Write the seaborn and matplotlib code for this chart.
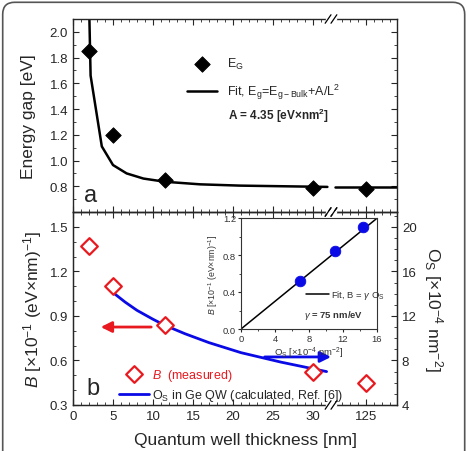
import numpy as np
import pandas as pd
import matplotlib
matplotlib.use('Agg')
import matplotlib.pyplot as plt
from matplotlib.ticker import AutoMinorLocator, FixedLocator
from matplotlib.patches import PathPatch
from matplotlib.path import Path
import seaborn as sns

# ---- data ----
# panel a: energy gap vs quantum well thickness
L_eg = [2, 5, 11.5, 30, 125]
E_gap = [1.85, 1.20, 0.85, 0.79, 0.775]
fit_L1 = [2.0, 2.2, 3.6, 5.0, 6.7, 8.8, 11.5, 15.9, 20.9, 31.8]
fit_E1 = [2.25, 1.66, 1.11, 0.965, 0.90, 0.86, 0.835, 0.815, 0.805, 0.795]
fit_L2 = [121.075, 128.875]
fit_E2 = [0.795, 0.795]

# panel b: B measured (left axis) and calculated O_S (right axis)
L_B = [2, 5, 11.5, 30, 125]
B_meas = [1.37, 1.10, 0.84, 0.52, 0.45]
L_os = [5, 6.5, 8, 10, 11.5, 14, 17, 21, 26, 31.7]
Os_calc = [14.1, 13.25, 12.5, 11.7, 11.15, 10.4, 9.6, 8.7, 7.85, 7.0]

# inset: B vs O_S with linear fit
inset_Os = [6.95, 11.1, 14.3]
inset_B = [0.52, 0.84, 1.10]
inset_fit_Os = [0, 15.9]
inset_fit_B = [0, 1.19]

x_ticks = [0, 5, 10, 15, 20, 25, 30, 125]

# ---- broken x axis via a piecewise-linear scale ----
A1, B2, G = 31.8, 121.075, 0.9
OFF = B2 - (A1 + G)


def fwd(x):
    x = np.asarray(x, float)
    return np.where(x <= A1, x,
                    np.where(x >= B2, x - OFF, A1 + (x - A1) * G / (B2 - A1)))


def inv(y):
    y = np.asarray(y, float)
    return np.where(y <= A1, y,
                    np.where(y >= A1 + G, y + OFF, A1 + (y - A1) * (B2 - A1) / G))


sns.set_style('ticks')
plt.rcParams['font.family'] = ['Liberation Sans', 'DejaVu Sans']
plt.rcParams['mathtext.fontset'] = 'custom'
plt.rcParams['mathtext.rm'] = 'Liberation Sans'
plt.rcParams['mathtext.it'] = 'Liberation Sans:italic'
plt.rcParams['mathtext.bf'] = 'Liberation Sans:bold'

RED = '#e8191f'
BLUE = '#0a0ae6'

W, H = 467, 452
fig = plt.figure(figsize=(W / 100, H / 100), dpi=100)


def rect(l, t, r, b):
    return [l / W, 1 - b / H, (r - l) / W, (b - t) / H]


ax_a = fig.add_axes(rect(73, 20, 397, 213))
ax_b = fig.add_axes(rect(73, 213, 397, 406))
ax_b2 = ax_b.twinx()

for ax in (ax_a, ax_b):
    ax.set_xscale('function', functions=(fwd, inv))
    ax.set_xlim(0, 128.875)
    ax.xaxis.set_major_locator(FixedLocator(x_ticks))
    ax.xaxis.set_minor_locator(FixedLocator(list(range(1, 32)) + list(range(122, 129))))
    for s in ax.spines.values():
        s.set_linewidth(1.0)

# ---- panel a ----
sns.lineplot(x=fit_L1, y=fit_E1, ax=ax_a, color='black', lw=1.8, sort=False,
             estimator=None, label=r'Fit, E$_\mathrm{g}$=E$_\mathrm{g-Bulk}$+A/L$^2$')
sns.lineplot(x=fit_L2, y=fit_E2, ax=ax_a, color='black', lw=1.8, sort=False,
             estimator=None)
sns.scatterplot(x=L_eg, y=E_gap, ax=ax_a, marker='D', s=62, color='black',
                edgecolor='black', zorder=5, label=r'E$_\mathrm{G}$')
ax_a.set_ylim(0.6, 2.1)
ax_a.set_yticks([0.8, 1.0, 1.2, 1.4, 1.6, 1.8, 2.0])
ax_a.yaxis.set_minor_locator(AutoMinorLocator(2))
ax_a.set_ylabel('Energy gap [eV]', fontsize=12.5, labelpad=10)
ax_a.tick_params(axis='both', which='both', direction='in', top=True, right=True,
                 labelsize=9.5)
ax_a.tick_params(which='major', length=4)
ax_a.tick_params(which='minor', length=2.5)
ax_a.tick_params(axis='x', labelbottom=False)
h, l = ax_a.get_legend_handles_labels()
order = [l.index(r'E$_\mathrm{G}$'), 1 - l.index(r'E$_\mathrm{G}$')]
ax_a.legend([h[i] for i in order], [l[i] for i in order], loc='upper left',
            bbox_to_anchor=(0.335, 0.835), frameon=False, fontsize=9,
            handlelength=2.4, labelspacing=0.9, borderaxespad=0)
ax_a.text(0.478, 0.505, r'A = 4.35 [eV×nm$^\mathbf{2}$]', transform=ax_a.transAxes,
          fontsize=8.5, fontweight='bold', va='center')
ax_a.text(0.035, 0.055, 'a', transform=ax_a.transAxes, fontsize=17)

# ---- panel b ----
ax_b.set_zorder(ax_b2.get_zorder() + 1)
ax_b.patch.set_visible(False)
sns.lineplot(x=L_os, y=Os_calc, ax=ax_b2, color=BLUE, lw=2, sort=False,
             estimator=None, label=r'O$_\mathrm{S}$ in Ge QW (calculated, Ref. [6])',
             legend=False)
sns.scatterplot(x=L_B, y=B_meas, ax=ax_b, marker='D', s=72, facecolor='white',
                edgecolor=RED, linewidth=1.6, zorder=5, label=r'$B$  (measured)',
                legend=False)
ax_b.set_ylim(0.3, 1.6)
ax_b.set_yticks([0.3, 0.6, 0.9, 1.2, 1.5])
ax_b.yaxis.set_minor_locator(AutoMinorLocator(3))
ax_b2.set_ylim(4, 4 + 1.3 / 0.075)
ax_b2.set_yticks([4, 8, 12, 16, 20])
ax_b2.yaxis.set_minor_locator(AutoMinorLocator(4))
ax_b.tick_params(axis='both', which='both', direction='in', top=True, right=False,
                 labelsize=9.5)
ax_b.tick_params(which='major', length=4)
ax_b.tick_params(which='minor', length=2.5)
ax_b2.tick_params(axis='y', which='both', direction='in', labelsize=9.5)
ax_b2.tick_params(which='major', length=4)
ax_b2.tick_params(which='minor', length=2.5)
ax_b.set_ylabel(r'$B$ [×10$^{-1}$ (eV×nm)$^{-1}$]', fontsize=12.5, labelpad=4)
ax_b2.set_ylabel(r'O$_\mathrm{S}$ [×10$^{-4}$ nm$^{-2}$]', fontsize=12.5,
                 rotation=270, labelpad=20)
ax_b.set_xlabel('Quantum well thickness [nm]', fontsize=12.5, labelpad=8)
ax_b.xaxis.set_label_coords(0.533, -0.14)
ax_b.text(0.04, 0.055, 'b', transform=ax_b.transAxes, fontsize=17)

hb, lb = ax_b.get_legend_handles_labels()
hb2, lb2 = ax_b2.get_legend_handles_labels()
leg = ax_b.legend(hb + hb2, lb + lb2, loc='upper left', bbox_to_anchor=(0.125, 0.225),
                  frameon=False, fontsize=9, handlelength=2.4, labelspacing=0.35,
                  borderaxespad=0, handletextpad=0.3)
leg.get_texts()[0].set_color(RED)

ax_b.annotate('', xy=(0.077, 0.404), xytext=(0.25, 0.404), xycoords='axes fraction',
              arrowprops=dict(arrowstyle='-|>', color=RED, lw=2, mutation_scale=16))
ax_b2.annotate('', xy=(0.805, 0.249), xytext=(0.583, 0.249), xycoords='axes fraction',
               arrowprops=dict(arrowstyle='-|>', color=BLUE, lw=2, mutation_scale=16))

# break marks on the x axis
bx = (331 - 73) / 324
for ax, ys in ((ax_a, (0, 1)), (ax_b, (0, 1))):
    for y in ys:
        ax.plot([bx - 0.012, bx + 0.012], [y, y], transform=ax.transAxes, color='white',
                lw=2.5, clip_on=False, zorder=10)
        for dx in (-0.009, 0.009):
            ax.plot([bx + dx - 0.009, bx + dx + 0.009], [y - 0.022, y + 0.022],
                    transform=ax.transAxes, color='black', lw=0.9, clip_on=False, zorder=11)

# ---- inset ----
ax_in = fig.add_axes(rect(241, 219, 377, 330))
ax_in.set_zorder(ax_b.get_zorder() + 2)
sns.lineplot(x=inset_fit_Os, y=inset_fit_B, ax=ax_in, color='black', lw=1.1,
             sort=False, estimator=None, label=r'Fit, B = $\gamma$ O$_\mathrm{S}$')
sns.scatterplot(x=inset_Os, y=inset_B, ax=ax_in, s=58, color=BLUE, edgecolor=BLUE,
                zorder=5, legend=False)
ax_in.set_xlim(0, 16)
ax_in.set_ylim(0, 1.2)
ax_in.set_xticks([0, 4, 8, 12, 16])
ax_in.set_yticks([0.0, 0.4, 0.8, 1.2])
ax_in.xaxis.set_minor_locator(AutoMinorLocator(2))
ax_in.yaxis.set_minor_locator(AutoMinorLocator(2))
ax_in.tick_params(axis='both', which='both', direction='out', labelsize=6.8,
                  labelcolor='#333333', pad=1)
ax_in.tick_params(which='major', length=2.5)
ax_in.tick_params(which='minor', length=1.5)
for s in ax_in.spines.values():
    s.set_linewidth(0.8)
    s.set_color('#333333')
ax_in.set_xlabel(r'O$_\mathrm{S}$ [×10$^{-4}$ nm$^{-2}$]', fontsize=6.8,
                 color='#333333', labelpad=1)
ax_in.set_ylabel(r'$B$ [×10$^{-1}$ (eV×nm)$^{-1}$]', fontsize=6.3,
                 color='#333333', labelpad=2)
ax_in.legend(loc='center left', bbox_to_anchor=(0.45, 0.31), frameon=False,
             fontsize=6.8, handlelength=2.4, borderaxespad=0, handletextpad=0.3,
             labelcolor='#333333')
ax_in.text(0.463, 0.135, r'$\gamma$ = 75 nm/eV', transform=ax_in.transAxes,
           fontsize=6.8, fontweight='bold', color='#333333', va='center')

# rounded frame (open at the bottom) around the whole figure, in inches
x0, x1, top, r = 0.027, 4.647, 4.487, 0.12
verts = [(x0, -0.5), (x0, top - r), (x0, top), (x0 + r, top), (x1 - r, top),
         (x1, top), (x1, top - r), (x1, -0.5)]
codes = [Path.MOVETO, Path.LINETO, Path.CURVE3, Path.CURVE3, Path.LINETO,
         Path.CURVE3, Path.CURVE3, Path.LINETO]
frame = PathPatch(Path(verts, codes), transform=fig.dpi_scale_trans, fill=False,
                  edgecolor='#555555', lw=1.2, clip_on=False)
fig.patches.append(frame)

fig.savefig('out.png', dpi=100)
